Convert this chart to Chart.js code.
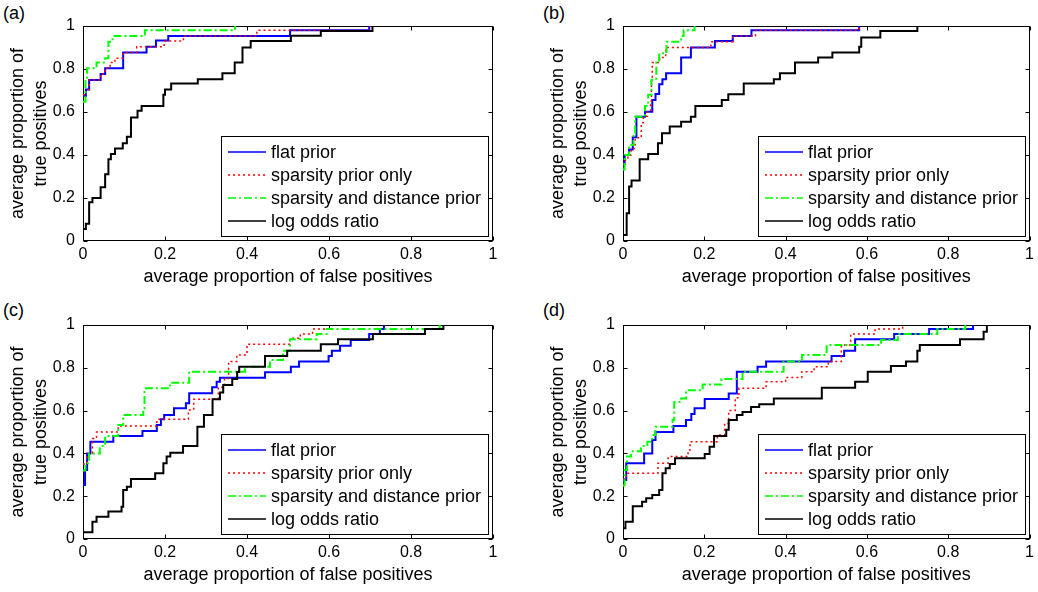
<!DOCTYPE html>
<html>
<head>
<meta charset="utf-8">
<script src="https://cdn.jsdelivr.net/npm/chart.js@4.4.0/dist/chart.umd.min.js"></script>
<style>
  body { margin: 0; width: 1038px; height: 592px; overflow: hidden; background: #fff; }
  canvas { position: absolute; }
  .tag { position: absolute; font: 18px "Liberation Sans", Arial, sans-serif; color: #000; }
</style>
</head>
<body>
<div class="tag" style="left:3px;top:3px">(a)</div>
<div class="tag" style="left:543px;top:3px">(b)</div>
<div class="tag" style="left:3px;top:300px">(c)</div>
<div class="tag" style="left:543px;top:300px">(d)</div>
<canvas id="chartA" width="519" height="296" style="left:0;top:0"></canvas>
<canvas id="chartB" width="498" height="296" style="left:540px;top:0"></canvas>
<canvas id="chartC" width="519" height="296" style="left:0;top:298px"></canvas>
<canvas id="chartD" width="498" height="296" style="left:540px;top:298px"></canvas>
<script>
// series names, ticks and axis titles
const seriesNames = ["flat prior", "sparsity prior only", "sparsity and distance prior", "log odds ratio"];
const tickValues = [0, 0.2, 0.4, 0.6, 0.8, 1];
const tickLabels = ["0", "0.2", "0.4", "0.6", "0.8", "1"];
const xTitle = "average proportion of false positives";
const yTitle = ["average proportion of", "true positives"];

// each point is [false positive rate, true positive rate] where the curve steps up
const aFlat = [[0,0.674],[0.007,0.705],[0.015,0.749],[0.043,0.777],[0.054,0.803],[0.098,0.877],[0.155,0.904],[0.178,0.932],[0.208,0.953],[0.505,0.98],[0.698,1]];
const aSparse = [[0,0.68],[0.007,0.705],[0.015,0.749],[0.043,0.777],[0.054,0.803],[0.066,0.83],[0.078,0.85],[0.098,0.877],[0.131,0.904],[0.198,0.93],[0.245,0.953],[0.424,0.98],[0.70,1]];
const aDist = [[0,0.648],[0.006,0.752],[0.01,0.803],[0.033,0.83],[0.054,0.85],[0.062,0.927],[0.072,0.953],[0.151,0.98],[0.371,1]];
const aLog = [[0,0.056],[0.007,0.08],[0.015,0.18],[0.023,0.2],[0.043,0.25],[0.054,0.31],[0.062,0.38],[0.068,0.405],[0.078,0.43],[0.097,0.455],[0.107,0.485],[0.117,0.575],[0.133,0.606],[0.143,0.628],[0.196,0.68],[0.2,0.705],[0.215,0.733],[0.28,0.752],[0.34,0.78],[0.37,0.83],[0.389,0.9],[0.409,0.93],[0.507,0.955],[0.58,0.977],[0.706,1]];

const bFlat = [[0,0.358],[0.004,0.4],[0.015,0.426],[0.024,0.482],[0.033,0.578],[0.054,0.601],[0.072,0.656],[0.08,0.684],[0.089,0.729],[0.097,0.752],[0.106,0.78],[0.143,0.854],[0.167,0.9],[0.226,0.93],[0.27,0.953],[0.316,0.98],[0.581,1]];
const bSparse = [[0,0.36],[0.006,0.38],[0.012,0.4],[0.02,0.43],[0.03,0.48],[0.045,0.55],[0.05,0.58],[0.06,0.6],[0.068,0.65],[0.07,0.75],[0.072,0.83],[0.09,0.854],[0.105,0.9],[0.216,0.927],[0.27,0.953],[0.326,0.98],[0.581,1]];
const bDist = [[0,0.333],[0.004,0.4],[0.015,0.447],[0.026,0.5],[0.03,0.578],[0.054,0.628],[0.062,0.68],[0.07,0.75],[0.082,0.83],[0.089,0.873],[0.107,0.927],[0.143,0.953],[0.149,0.98],[0.176,1]];
const bLog = [[0,0.028],[0.009,0.129],[0.015,0.253],[0.021,0.281],[0.041,0.38],[0.062,0.405],[0.086,0.455],[0.096,0.501],[0.115,0.532],[0.143,0.555],[0.167,0.578],[0.178,0.628],[0.243,0.656],[0.259,0.682],[0.297,0.733],[0.371,0.752],[0.386,0.78],[0.423,0.83],[0.48,0.854],[0.515,0.877],[0.581,0.904],[0.586,0.947],[0.633,0.977],[0.724,1]];

const cFlat = [[0,0.252],[0.005,0.322],[0.01,0.4],[0.018,0.455],[0.074,0.481],[0.145,0.505],[0.18,0.533],[0.19,0.559],[0.198,0.579],[0.222,0.611],[0.251,0.634],[0.259,0.681],[0.315,0.709],[0.326,0.735],[0.334,0.753],[0.444,0.779],[0.507,0.805],[0.527,0.829],[0.599,0.855],[0.607,0.88],[0.627,0.903],[0.653,0.93],[0.698,0.958],[0.724,0.981],[0.734,1]];
const cSparse = [[0,0.35],[0.01,0.4],[0.023,0.47],[0.033,0.5],[0.086,0.528],[0.18,0.559],[0.257,0.603],[0.27,0.653],[0.33,0.709],[0.345,0.75],[0.355,0.829],[0.375,0.86],[0.4,0.91],[0.505,0.938],[0.53,0.958],[0.56,0.981],[0.6,1]];
const cDist = [[0,0.32],[0.006,0.354],[0.015,0.4],[0.041,0.434],[0.054,0.481],[0.086,0.533],[0.098,0.579],[0.147,0.611],[0.15,0.704],[0.212,0.73],[0.259,0.782],[0.395,0.805],[0.456,0.836],[0.488,0.88],[0.505,0.933],[0.57,0.958],[0.594,0.981],[0.87,1]];
const cLog = [[0,0.031],[0.023,0.081],[0.033,0.104],[0.062,0.128],[0.094,0.151],[0.098,0.229],[0.107,0.244],[0.117,0.28],[0.176,0.307],[0.196,0.354],[0.204,0.385],[0.213,0.403],[0.244,0.435],[0.279,0.525],[0.295,0.579],[0.316,0.653],[0.334,0.684],[0.342,0.72],[0.364,0.748],[0.376,0.78],[0.381,0.805],[0.444,0.855],[0.498,0.88],[0.58,0.91],[0.622,0.933],[0.707,0.958],[0.834,0.981],[0.879,1]];

const dFlat = [[0,0.276],[0.008,0.354],[0.052,0.4],[0.072,0.463],[0.08,0.5],[0.124,0.528],[0.155,0.556],[0.168,0.584],[0.176,0.611],[0.201,0.654],[0.26,0.68],[0.28,0.782],[0.331,0.805],[0.352,0.829],[0.513,0.855],[0.544,0.88],[0.571,0.933],[0.667,0.958],[0.753,0.981],[0.861,1]];
const dSparse = [[0,0.28],[0.008,0.307],[0.086,0.354],[0.111,0.385],[0.16,0.416],[0.165,0.455],[0.232,0.486],[0.25,0.54],[0.26,0.6],[0.276,0.66],[0.285,0.704],[0.352,0.735],[0.4,0.755],[0.44,0.782],[0.47,0.805],[0.505,0.83],[0.537,0.907],[0.56,0.958],[0.62,0.981],[0.688,1]];
const dDist = [[0,0.25],[0.004,0.322],[0.01,0.385],[0.02,0.41],[0.044,0.434],[0.06,0.455],[0.072,0.486],[0.08,0.525],[0.122,0.556],[0.126,0.64],[0.143,0.656],[0.155,0.695],[0.196,0.722],[0.242,0.748],[0.294,0.782],[0.395,0.829],[0.44,0.86],[0.501,0.907],[0.635,0.93],[0.676,0.958],[0.773,0.981],[0.842,1]];
const dLog = [[0,0.05],[0.006,0.081],[0.024,0.153],[0.047,0.174],[0.057,0.19],[0.072,0.206],[0.089,0.229],[0.097,0.307],[0.105,0.331],[0.115,0.351],[0.128,0.377],[0.201,0.397],[0.213,0.431],[0.224,0.481],[0.254,0.51],[0.26,0.556],[0.28,0.579],[0.294,0.594],[0.315,0.617],[0.335,0.63],[0.371,0.657],[0.489,0.707],[0.571,0.735],[0.602,0.782],[0.659,0.808],[0.696,0.829],[0.724,0.88],[0.73,0.907],[0.829,0.933],[0.887,0.969],[0.895,1]];

const fontFamily = '"Liberation Sans", Arial, sans-serif';
Chart.defaults.font.family = fontFamily;
Chart.defaults.color = "#000";

const lineStyles = [
  { color: "#0000ff", width: 2, dash: [] },
  { color: "#ff0000", width: 1.5, dash: [2, 3] },
  { color: "#00ff00", width: 2, dash: [8, 3, 2, 3] },
  { color: "#000000", width: 2, dash: [] }
];

// box round the plot with inward ticks, like MATLAB
const boxPlugin = {
  id: "boxPlugin",
  beforeDatasetsDraw(chart) {
    const { ctx, chartArea: a, scales } = chart;
    const L = Math.round(a.left) + 0.5, R = Math.round(a.right) - 0.5;
    const T = Math.round(a.top) + 0.5, B = Math.round(a.bottom) - 0.5;
    ctx.save();
    ctx.strokeStyle = "#000";
    ctx.lineWidth = 1;
    ctx.strokeRect(L, T, R - L, B - T);
    ctx.beginPath();
    tickValues.forEach(v => {
      const px = Math.round(scales.x.getPixelForValue(v)) + 0.5;
      ctx.moveTo(px, B); ctx.lineTo(px, B - 4);
      ctx.moveTo(px, T); ctx.lineTo(px, T + 4);
      const py = Math.round(scales.y.getPixelForValue(v)) + 0.5;
      ctx.moveTo(L, py); ctx.lineTo(L + 4, py);
      ctx.moveTo(R, py); ctx.lineTo(R - 4, py);
    });
    ctx.stroke();
    ctx.restore();
  }
};

// legend box in the lower right corner of the plot
const boxLegend = {
  id: "boxLegend",
  afterDraw(chart) {
    const { ctx, chartArea: a } = chart;
    const w = 267, h = 100;
    const L = Math.round(a.right) - 5 - w, T = Math.round(a.bottom) - 5 - h;
    ctx.save();
    ctx.fillStyle = "#fff";
    ctx.fillRect(L, T, w, h);
    ctx.strokeStyle = "#000";
    ctx.lineWidth = 1;
    ctx.strokeRect(L + 0.5, T + 0.5, w, h);
    chart.data.datasets.forEach((ds, i) => {
      const y = T + 16 + i * 23;
      ctx.strokeStyle = ds.borderColor;
      ctx.lineWidth = 1.5;
      ctx.setLineDash(ds.borderDash);
      ctx.beginPath();
      ctx.moveTo(L + 7, y);
      ctx.lineTo(L + 45, y);
      ctx.stroke();
      ctx.setLineDash([]);
      ctx.fillStyle = "#000";
      ctx.font = "18px " + fontFamily;
      ctx.textBaseline = "middle";
      ctx.fillText(ds.label, L + 50, y + 1);
    });
    ctx.restore();
  }
};

function makePanel(id, series, padTop, padRight) {
  new Chart(document.getElementById(id), {
    type: "line",
    data: {
      datasets: series.map((pts, i) => ({
        label: seriesNames[i],
        data: pts.map(p => ({ x: p[0], y: p[1] })),
        borderColor: lineStyles[i].color,
        borderWidth: lineStyles[i].width,
        borderDash: lineStyles[i].dash,
        stepped: "before",
        pointRadius: 0,
        fill: false,
        order: 3 - i
      }))
    },
    options: {
      responsive: false,
      animation: false,
      devicePixelRatio: 1,
      layout: { padding: { top: padTop, right: padRight, left: 0, bottom: 0 } },
      plugins: { legend: { display: false }, tooltip: { enabled: false } },
      scales: {
        x: {
          type: "linear", min: 0, max: 1,
          afterBuildTicks: s => { s.ticks = tickValues.map(v => ({ value: v })); },
          afterFit: s => { s.height = 55; },
          ticks: {
            callback: v => tickLabels[tickValues.indexOf(v)],
            font: { size: 16 }, padding: 4, maxRotation: 0, autoSkip: false
          },
          grid: { display: false, drawTicks: false },
          border: { display: false },
          title: { display: true, text: xTitle, font: { size: 18, lineHeight: 1.25 }, padding: { top: 0, bottom: 8 } }
        },
        y: {
          type: "linear", min: 0, max: 1,
          afterBuildTicks: s => { s.ticks = tickValues.map(v => ({ value: v })); },
          afterFit: s => { s.width = 83; },
          ticks: {
            callback: v => tickLabels[tickValues.indexOf(v)],
            font: { size: 16 }, padding: 8, autoSkip: false
          },
          grid: { display: false, drawTicks: false },
          border: { display: false },
          title: { display: true, text: yTitle, font: { size: 18, lineHeight: 1.25 }, padding: { top: 7, bottom: 0 } }
        }
      }
    },
    plugins: [boxPlugin, boxLegend]
  });
}

makePanel("chartA", [aFlat, aSparse, aDist, aLog], 26, 26);
makePanel("chartB", [bFlat, bSparse, bDist, bLog], 26, 5);
makePanel("chartC", [cFlat, cSparse, cDist, cLog], 27, 26);
makePanel("chartD", [dFlat, dSparse, dDist, dLog], 27, 5);
</script>
</body>
</html>
